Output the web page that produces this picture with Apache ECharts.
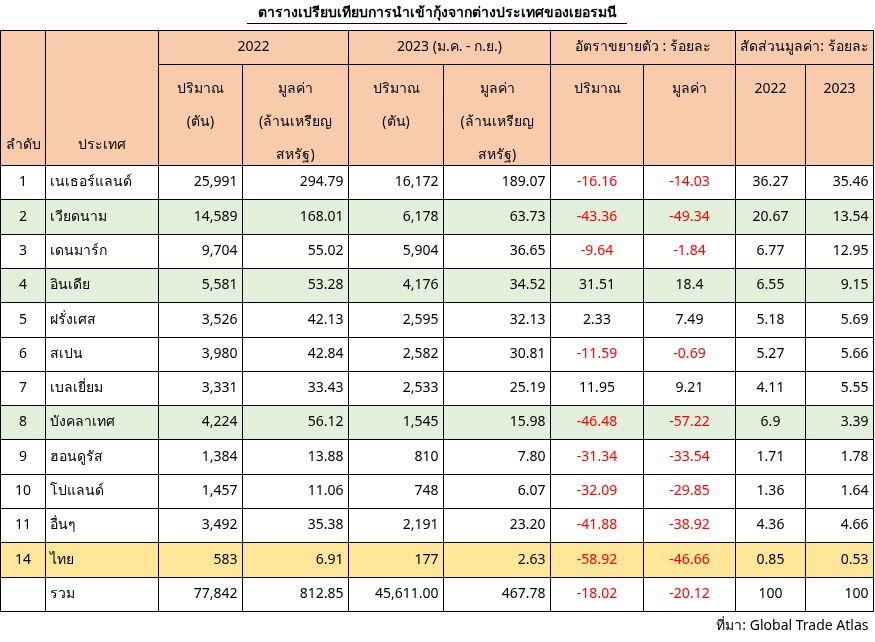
<!DOCTYPE html>
<html><head><meta charset="utf-8">
<script src="https://cdn.jsdelivr.net/npm/echarts@6/dist/echarts.min.js"></script>
<style>html,body{margin:0;background:#fff}#main{width:875px;height:642px}</style>
</head><body><div id="main"></div>
<script>
// data
var ranks = ['1','2','3','4','5','6','7','8','9','10','11','14',''];
var countries = ['เนเธอร์แลนด์','เวียดนาม','เดนมาร์ก','อินเดีย','ฝรั่งเศส','สเปน','เบลเยี่ยม','บังคลาเทศ','ฮอนดูรัส','โปแลนด์','อื่นๆ','ไทย','รวม'];
var qty2022 = ['25,991','14,589','9,704','5,581','3,526','3,980','3,331','4,224','1,384','1,457','3,492','583','77,842'];
var val2022 = ['294.79','168.01','55.02','53.28','42.13','42.84','33.43','56.12','13.88','11.06','35.38','6.91','812.85'];
var qty2023 = ['16,172','6,178','5,904','4,176','2,595','2,582','2,533','1,545','810','748','2,191','177','45,611.00'];
var val2023 = ['189.07','63.73','36.65','34.52','32.13','30.81','25.19','15.98','7.80','6.07','23.20','2.63','467.78'];
var growQty = ['-16.16','-43.36','-9.64','31.51','2.33','-11.59','11.95','-46.48','-31.34','-32.09','-41.88','-58.92','-18.02'];
var growVal = ['-14.03','-49.34','-1.84','18.4','7.49','-0.69','9.21','-57.22','-33.54','-29.85','-38.92','-46.66','-20.12'];
var share2022 = ['36.27','20.67','6.77','6.55','5.18','5.27','4.11','6.9','1.71','1.36','4.36','0.85','100'];
var share2023 = ['35.46','13.54','12.95','9.15','5.69','5.66','5.55','3.39','1.78','1.64','4.66','0.53','100'];
var rowKind = ['','g','','g','','','','g','','','','y',''];

// layout
var colEdges = [0,45,158,242,348,443,550,643,735,805,873];
var headTop = 30, headMid = 64, dataTop = 165, rowH = 34.3;
var fills = {'': '#ffffff', g: '#e2efda', y: '#ffe699'};
var headFill = '#f8cbad';

var cells = [];
function cell(c0, c1, y0, y1, text, opt) {
  opt = opt || {};
  cells.push([colEdges[c0], colEdges[c1], y0, y1, text, opt.fill || 'none', opt.color || '#000',
    opt.align || 'center', opt.valign || 'middle', opt.border === false ? 0 : 1, opt.size || 14, opt.weight || 'normal']);
}
// header
cell(0,1,headTop,dataTop,'ลำดับ',{fill:headFill,valign:'bottom'});
cell(1,2,headTop,dataTop,'ประเทศ',{fill:headFill,valign:'bottom'});
cell(2,4,headTop,headMid,'2022',{fill:headFill});
cell(4,6,headTop,headMid,'2023 (ม.ค. - ก.ย.)',{fill:headFill});
cell(6,8,headTop,headMid,'อัตราขยายตัว : ร้อยละ',{fill:headFill});
cell(8,10,headTop,headMid,'สัดส่วนมูลค่า: ร้อยละ',{fill:headFill});
var subs = ['ปริมาณ\n(ตัน)','มูลค่า\n(ล้านเหรียญ\nสหรัฐ)','ปริมาณ\n(ตัน)','มูลค่า\n(ล้านเหรียญ\nสหรัฐ)','ปริมาณ','มูลค่า','2022','2023'];
subs.forEach(function (s, i) { cell(i+2,i+3,headMid,dataTop,s,{fill:headFill,valign:'top'}); });
// body
countries.forEach(function (name, r) {
  var y0 = dataTop + r*rowH, y1 = y0 + rowH, f = fills[rowKind[r]];
  var red = function (v) { return v.charAt(0) === '-' ? '#ff0000' : '#000'; };
  cell(0,1,y0,y1,ranks[r],{fill:f});
  cell(1,2,y0,y1,name,{fill:f,align:'left'});
  cell(2,3,y0,y1,qty2022[r],{fill:f,align:'right'});
  cell(3,4,y0,y1,val2022[r],{fill:f,align:'right'});
  cell(4,5,y0,y1,qty2023[r],{fill:f,align:'right'});
  cell(5,6,y0,y1,val2023[r],{fill:f,align:'right'});
  cell(6,7,y0,y1,growQty[r],{fill:f,color:red(growQty[r])});
  cell(7,8,y0,y1,growVal[r],{fill:f,color:red(growVal[r])});
  cell(8,9,y0,y1,share2022[r],{fill:f});
  cell(9,10,y0,y1,share2023[r],{fill:f,align:'right'});
});
cell(0,10,0,26,'ตารางเปรียบเทียบการนำเข้ากุ้งจากต่างประเทศของเยอรมนี',{border:false,weight:'bold'});
cell(0,10,612,640,'ที่มา: Global Trade Atlas',{border:false,align:'right'});

var myChart = echarts.init(document.getElementById('main'));
var option = {
  animation: false,
  grid: {left: 0, right: 0, top: 0, bottom: 0},
  xAxis: {type: 'value', min: 0, max: 875, show: false},
  yAxis: {type: 'value', min: 0, max: 642, inverse: true, show: false},
  series: [{
    type: 'custom',
    coordinateSystem: 'cartesian2d',
    data: cells,
    renderItem: function (params, api) {
      var d = cells[params.dataIndex];
      var p0 = api.coord([d[0], d[2]]), p1 = api.coord([d[1], d[3]]);
      var x0 = Math.round(p0[0]) + 0.5, y0 = Math.round(p0[1]) + 0.5;
      var x1 = Math.round(p1[0]) + 0.5, y1 = Math.round(p1[1]) + 0.5;
      var align = d[7], valign = d[8];
      var tx = align === 'left' ? x0 + 4 : align === 'right' ? x1 - 5 : (x0 + x1) / 2;
      var ty = valign === 'top' ? y0 + 8 : valign === 'bottom' ? y1 - 4 : (y0 + y1) / 2;
      var children = [{
        type: 'rect',
        shape: {x: x0, y: y0, width: x1 - x0, height: y1 - y0},
        style: {fill: d[5], stroke: d[9] ? '#000' : null, lineWidth: 1}
      }, {
        type: 'text',
        style: {
          x: tx, y: ty, text: d[4], fill: d[6], align: align,
          verticalAlign: valign, lineHeight: 33,
          font: d[11] + ' ' + d[10] + 'px "Noto Sans", "DejaVu Sans", sans-serif'
        }
      }];
      if (d[11] === 'bold') {
        var w = 380;
        children.push({type: 'line', shape: {x1: tx - w/2, y1: y1 - 3, x2: tx + w/2, y2: y1 - 3}, style: {stroke: '#000', lineWidth: 1}});
      }
      return {type: 'group', children: children};
    }
  }]
};
myChart.setOption(option);
</script></body></html>
